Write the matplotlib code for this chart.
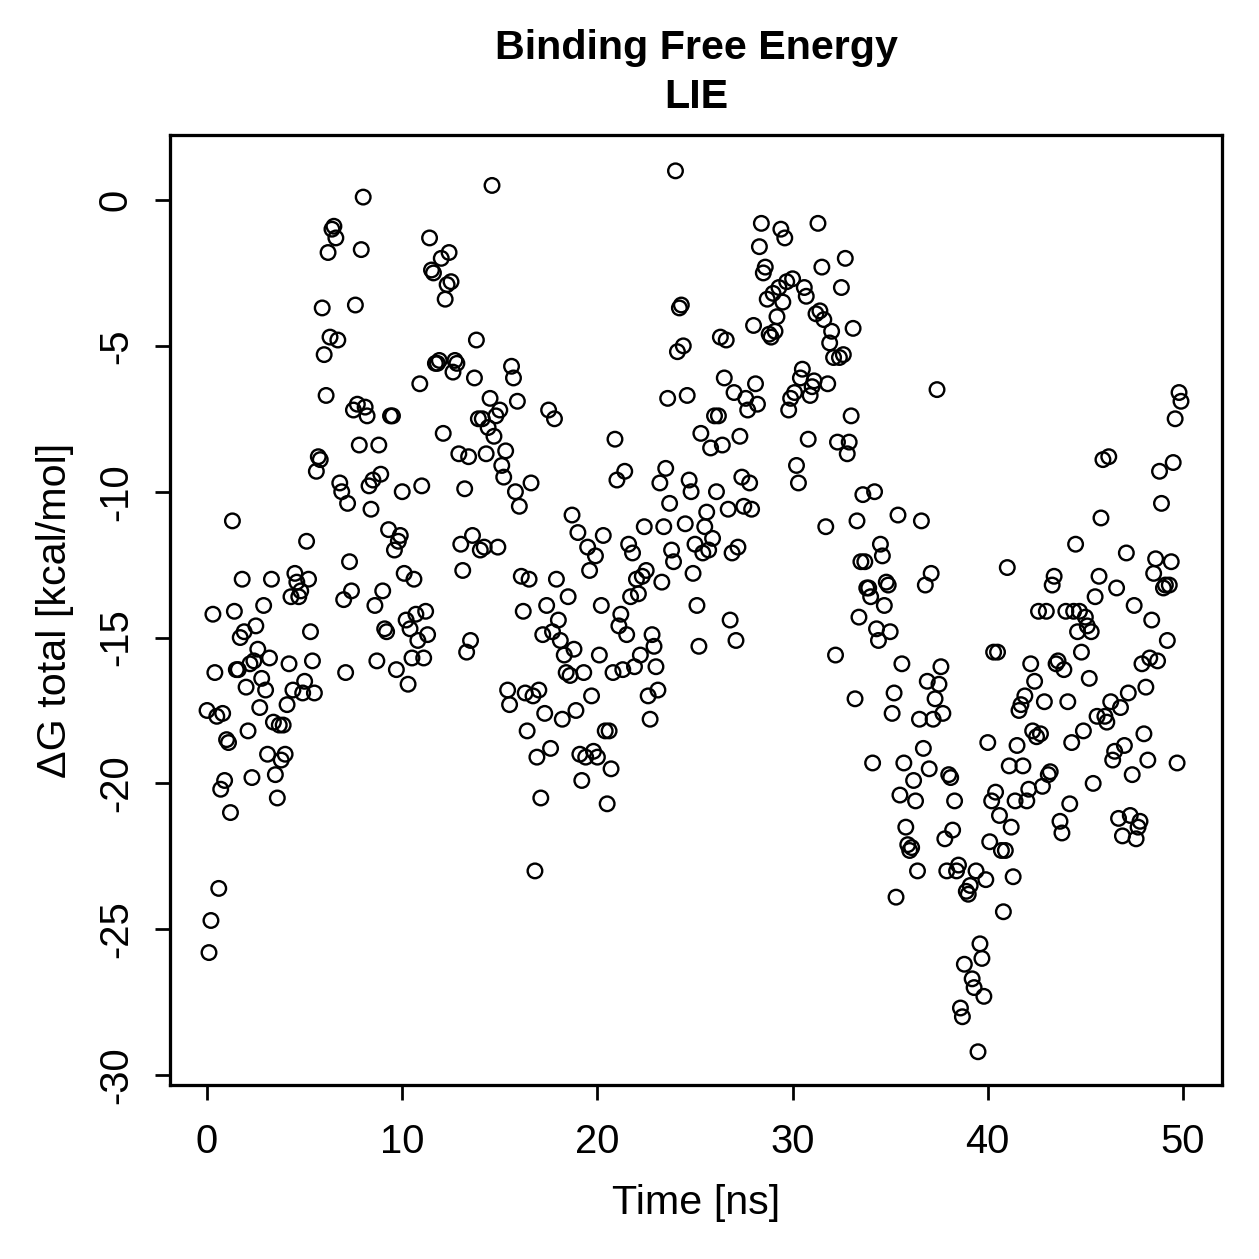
import numpy as np
import matplotlib.pyplot as plt

plt.rcParams['font.family'] = ['Liberation Sans', 'DejaVu Sans']

# LIE binding free energy, one frame every 0.1 ns
dg_0_5 = [-17.5, -25.8, -24.7, -14.2, -16.2, -17.7, -23.6, -20.2, -17.6, -19.9,
          -18.5, -18.6, -21.0, -11.0, -14.1, -16.1, -16.1, -15.0, -13.0, -14.8,
          -16.7, -18.2, -15.9, -19.8, -15.8, -14.6, -15.4, -17.4, -16.4, -13.9,
          -16.8, -19.0, -15.7, -13.0, -17.9, -19.7, -20.5, -18.0, -19.2, -18.0,
          -19.0, -17.3, -15.9, -13.6, -16.8, -12.8, -13.1, -13.6, -13.4, -16.9]
dg_5_10 = [-16.5, -11.7, -13.0, -14.8, -15.8, -16.9, -9.3, -8.8, -8.9, -3.7,
           -5.3, -6.7, -1.8, -4.7, -1.0, -0.9, -1.3, -4.8, -9.7, -10.0,
           -13.7, -16.2, -10.4, -12.4, -13.4, -7.2, -3.6, -7.0, -8.4, -1.7,
           0.1, -7.1, -7.4, -9.8, -10.6, -9.6, -13.9, -15.8, -8.4, -9.4,
           -13.4, -14.7, -14.8, -11.3, -7.4, -7.4, -12.0, -16.1, -11.7, -11.5]
dg_10_15 = [-10.0, -12.8, -14.4, -16.6, -14.7, -15.7, -13.0, -14.2, -15.1, -6.3,
            -9.8, -15.7, -14.1, -14.9, -1.3, -2.4, -2.5, -5.6, -5.6, -5.5,
            -2.0, -8.0, -3.4, -2.9, -1.8, -2.8, -5.9, -5.5, -5.6, -8.7,
            -11.8, -12.7, -9.9, -15.5, -8.8, -15.1, -11.5, -6.1, -4.8, -7.5,
            -12.0, -7.5, -11.9, -8.7, -7.8, -6.8, 0.5, -8.1, -7.4, -11.9]
dg_15_20 = [-7.2, -9.1, -9.5, -8.6, -16.8, -17.3, -5.7, -6.1, -10.0, -6.9,
            -10.5, -12.9, -14.1, -16.9, -18.2, -13.0, -9.7, -17.0, -23.0, -19.1,
            -16.8, -20.5, -14.9, -17.6, -13.9, -7.2, -18.8, -14.8, -7.5, -13.0,
            -14.4, -15.1, -17.8, -15.6, -16.2, -13.6, -16.3, -10.8, -15.4, -17.5,
            -11.4, -19.0, -19.9, -16.2, -19.1, -11.9, -12.7, -17.0, -18.9, -12.2]
dg_20_25 = [-19.1, -15.6, -13.9, -11.5, -18.2, -20.7, -18.2, -19.5, -16.2, -8.2,
            -9.6, -14.6, -14.2, -16.1, -9.3, -14.9, -11.8, -13.6, -12.1, -16.0,
            -13.0, -13.5, -15.6, -12.9, -11.2, -12.7, -17.0, -17.8, -14.9, -15.3,
            -16.0, -16.8, -9.7, -13.1, -11.2, -9.2, -6.8, -10.4, -12.0, -12.4,
            1.0, -5.2, -3.7, -3.6, -5.0, -11.1, -6.7, -9.6, -10.0, -12.8]
dg_25_30 = [-11.8, -13.9, -15.3, -8.0, -12.1, -11.2, -10.7, -12.0, -8.5, -11.6,
            -7.4, -10.0, -7.4, -4.7, -8.4, -6.1, -4.8, -10.6, -14.4, -12.1,
            -6.6, -15.1, -11.9, -8.1, -9.5, -10.5, -6.8, -7.2, -9.7, -10.6,
            -4.3, -6.3, -7.0, -1.6, -0.8, -2.5, -2.3, -3.4, -4.6, -4.7,
            -3.2, -4.5, -4.0, -3.0, -1.0, -3.5, -1.3, -2.8, -7.2, -6.8]
dg_30_35 = [-2.7, -6.6, -9.1, -9.7, -6.1, -5.8, -3.0, -3.3, -8.2, -6.7,
            -6.4, -6.2, -3.9, -0.8, -3.8, -2.3, -4.1, -11.2, -6.3, -4.9,
            -4.5, -5.4, -15.6, -8.3, -5.4, -3.0, -5.3, -2.0, -8.7, -8.3,
            -7.4, -4.4, -17.1, -11.0, -14.3, -12.4, -10.1, -12.4, -13.3, -13.3,
            -13.6, -19.3, -10.0, -14.7, -15.1, -11.8, -12.2, -13.9, -13.1, -13.2]
dg_35_40 = [-14.8, -17.6, -16.9, -23.9, -10.8, -20.4, -15.9, -19.3, -21.5, -22.1,
            -22.3, -22.2, -19.9, -20.6, -23.0, -17.8, -11.0, -18.8, -13.2, -16.5,
            -19.5, -12.8, -17.8, -17.1, -6.5, -16.6, -16.0, -17.6, -21.9, -23.0,
            -19.7, -19.8, -21.6, -20.6, -23.0, -22.8, -27.7, -28.0, -26.2, -23.7,
            -23.8, -23.5, -26.7, -27.0, -23.0, -29.2, -25.5, -26.0, -27.3, -23.3]
dg_40_45 = [-18.6, -22.0, -20.6, -15.5, -20.3, -15.5, -21.1, -22.3, -24.4, -22.3,
            -12.6, -19.4, -21.5, -23.2, -20.6, -18.7, -17.5, -17.3, -19.4, -17.0,
            -20.6, -20.2, -15.9, -18.2, -16.5, -18.4, -14.1, -18.3, -20.1, -17.2,
            -14.1, -19.7, -19.6, -13.2, -12.9, -15.9, -15.8, -21.3, -21.7, -16.1,
            -14.1, -17.2, -20.7, -18.6, -14.1, -11.8, -14.8, -14.1, -15.5, -18.2]
dg_45_50 = [-14.3, -14.6, -16.4, -14.8, -20.0, -13.6, -17.7, -12.9, -10.9, -8.9,
            -17.7, -17.9, -8.8, -17.2, -19.2, -18.9, -13.3, -21.2, -17.4, -21.8,
            -18.7, -12.1, -16.9, -21.1, -19.7, -13.9, -21.9, -21.5, -21.3, -15.9,
            -18.3, -16.7, -19.2, -15.7, -14.4, -12.8, -12.3, -15.8, -9.3, -10.4,
            -13.3, -13.2, -15.1, -13.2, -12.4, -9.0, -7.5, -19.3, -6.6, -6.9]

dg = np.array(dg_0_5 + dg_5_10 + dg_10_15 + dg_15_20 + dg_20_25 +
              dg_25_30 + dg_30_35 + dg_35_40 + dg_40_45 + dg_45_50)
time = np.arange(len(dg)) * 0.1

fig = plt.figure(figsize=(1259 / 180, 1259 / 180), dpi=180)
ax = fig.add_axes([0.135, 0.1382, 0.8356, 0.7546])

ax.scatter(time, dg, s=34, facecolors='none', edgecolors='black', linewidths=0.95)

ax.set_xlim(-1.9, 52.0)
ax.set_ylim(-30.34, 2.23)
ax.set_xticks([0, 10, 20, 30, 40, 50])
ax.set_yticks([0, -5, -10, -15, -20, -25, -30])
ax.set_yticklabels(['0', '-5', '-10', '-15', '-20', '-25', '-30'])
ax.tick_params(direction='out', length=6, width=1.1, labelsize=16)
ax.tick_params(axis='x', pad=9)
ax.tick_params(axis='y', pad=8)
for lab in ax.get_yticklabels():
    lab.set_rotation(90)
    lab.set_va('center')
for sp in ax.spines.values():
    sp.set_linewidth(1.3)

fig.text(0.553, 0.9425, 'Binding Free Energy\nLIE', ha='center', va='center',
         fontsize=16.5, fontweight='bold', linespacing=1.35)
fig.text(0.553, 0.0445, 'Time [ns]', ha='center', va='center', fontsize=16.5)
fig.text(0.0437, 0.5155, 'ΔG total [kcal/mol]', ha='center', va='center',
         rotation=90, fontsize=16.5)

fig.savefig('out.png', dpi=180)
